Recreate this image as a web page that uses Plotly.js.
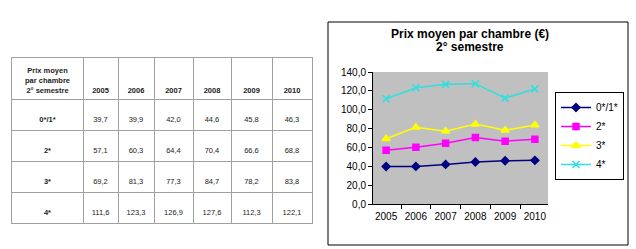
<!DOCTYPE html>
<html>
<head>
<meta charset="utf-8">
<script src="https://cdn.plot.ly/plotly-3.0.1.min.js"></script>
<style>
  html, body { margin: 0; padding: 0; background: #fff; }
  #chart { width: 636px; height: 249px; }
</style>
</head>
<body>
<div id="chart"></div>
<script>
// Average price per room, second half-year, by hotel category
const years = ["2005", "2006", "2007", "2008", "2009", "2010"];
const categories = ["0*/1*", "2*", "3*", "4*"];
const cat01 = [39.7, 39.9, 42.0, 44.6, 45.8, 46.3];
const cat2 = [57.1, 60.3, 64.4, 70.4, 66.6, 68.8];
const cat3 = [69.2, 81.3, 77.3, 84.7, 78.2, 83.8];
const cat4 = [111.6, 123.3, 126.9, 127.6, 112.3, 122.1];
const tableHeading = "Prix moyen<br>par chambre<br>2° semestre";
const chartTitle1 = "Prix moyen par chambre (€)";
const chartTitle2 = "2° semestre";

const series = [cat01, cat2, cat3, cat4];

// ---- styling / geometry --------------------------------------------------
const W = 636, H = 249;
const px = v => v / W;
const py = v => 1 - v / H;
const font = "Arial, 'Liberation Sans', sans-serif";

const styles = [
  { color: "#000080", symbol: "diamond", size: 6 },
  { color: "#ff00ff", symbol: "square", size: 6 },
  { color: "#ffff00", symbol: "triangle-up", size: 7 },
  { color: "#2ee0e0", symbol: "x-thin-open", size: 7 }
];

// grid of the table (column widths and row heights in table units = px)
const colWidths = [71, 35, 36, 39, 38, 41, 40];
const rowHeights = [41, 31, 31, 31, 31];
const edges = sizes => sizes.reduce((acc, s) => acc.concat(acc[acc.length - 1] + s), [0]);
const colEdges = edges(colWidths);
const rowEdges = edges(rowHeights);
const colCenters = colWidths.map((w, i) => colEdges[i] + w / 2);
const tableW = colEdges[colEdges.length - 1];
const tableH = rowEdges[rowEdges.length - 1];
const textLift = 9.5;      // text sits near the bottom of each cell
const lineStep = 9.75;     // line spacing of the 3-line heading

const fmt = v => v.toFixed(1).replace(".", ",");

// ---- table text --------------------------------------------------------------
const headerTrace = {
  type: "scatter", mode: "text", xaxis: "x2", yaxis: "y2",
  x: colCenters,
  y: colCenters.map((c, i) => rowEdges[1] - 8 - (i === 0 ? lineStep : 0)),
  text: [tableHeading].concat(years),
  textposition: "middle center",
  textfont: { family: font, size: 7.5, color: "#222", weight: "bold" },
  cliponaxis: false, showlegend: false, hoverinfo: "skip"
};

const labelTrace = {
  type: "scatter", mode: "text", xaxis: "x2", yaxis: "y2",
  x: categories.map(() => colCenters[0]),
  y: categories.map((c, r) => rowEdges[r + 2] - textLift),
  text: categories,
  textposition: "middle center",
  textfont: { family: font, size: 7.5, color: "#222", weight: "bold" },
  cliponaxis: false, showlegend: false, hoverinfo: "skip"
};

const valX = [], valY = [], valText = [];
series.forEach((s, r) => {
  s.forEach((v, c) => {
    valX.push(colCenters[c + 1]);
    valY.push(rowEdges[r + 2] - textLift);
    valText.push(fmt(v));
  });
});
const valueTrace = {
  type: "scatter", mode: "text", xaxis: "x2", yaxis: "y2",
  x: valX, y: valY, text: valText,
  textposition: "middle center",
  textfont: { family: font, size: 7.5, color: "#222" },
  cliponaxis: false, showlegend: false, hoverinfo: "skip"
};

// ---- line chart ----------------------------------------------------------
const lines = series.map((s, i) => ({
  type: "scatter",
  mode: "lines+markers",
  name: categories[i],
  x: years,
  y: s,
  line: { color: styles[i].color, width: 1.5 },
  marker: {
    color: styles[i].color,
    symbol: styles[i].symbol,
    size: styles[i].size,
    line: { color: styles[i].color, width: 1.5 }
  }
}));

const tableGrid = "#a0a0a0";

const layout = {
  width: W,
  height: H,
  margin: { l: 0, r: 0, t: 0, b: 0 },
  paper_bgcolor: "#ffffff",
  plot_bgcolor: "rgba(0,0,0,0)",
  separators: ",.",
  font: { family: font, size: 10, color: "#000" },
  xaxis: {
    domain: [px(373), px(548)],
    anchor: "y",
    type: "category",
    tickson: "boundaries",
    tickangle: 0,
    ticks: "outside",
    ticklen: 4,
    ticklabelstandoff: 3,
    tickcolor: "#000",
    showline: true,
    linecolor: "#000",
    linewidth: 1,
    showgrid: false,
    tickfont: { family: font, size: 10, color: "#000" },
    fixedrange: true
  },
  yaxis: {
    domain: [py(204), py(72)],
    anchor: "x",
    range: [0, 140],
    dtick: 20,
    tickformat: ".1f",
    ticks: "outside",
    ticklen: 4,
    tickcolor: "#000",
    showline: true,
    linecolor: "#000",
    linewidth: 1,
    showgrid: false,
    zeroline: false,
    tickfont: { family: font, size: 10, color: "#000" },
    fixedrange: true
  },
  // horizontal grid of the chart (no line along the top edge)
  yaxis3: {
    overlaying: "y",
    anchor: "x",
    range: [0, 140],
    tickvals: [20, 40, 60, 80, 100, 120],
    showticklabels: false,
    ticks: "",
    showgrid: true,
    gridcolor: "#000",
    gridwidth: 1,
    zeroline: false,
    showline: false,
    fixedrange: true
  },
  // table axes
  xaxis2: {
    domain: [px(12), px(12 + tableW)],
    anchor: "y2",
    range: [0, tableW],
    tickvals: colEdges,
    showticklabels: false,
    ticks: "",
    showgrid: true,
    gridcolor: tableGrid,
    gridwidth: 1,
    zeroline: false,
    showline: true,
    mirror: true,
    linecolor: tableGrid,
    linewidth: 1,
    fixedrange: true
  },
  yaxis2: {
    domain: [py(58 + tableH), py(58)],
    anchor: "x2",
    range: [tableH, 0],
    tickvals: rowEdges,
    showticklabels: false,
    ticks: "",
    showgrid: true,
    gridcolor: tableGrid,
    gridwidth: 1,
    zeroline: false,
    showline: true,
    mirror: true,
    linecolor: tableGrid,
    linewidth: 1,
    fixedrange: true
  },
  showlegend: true,
  legend: {
    x: px(555),
    y: py(92),
    xanchor: "left",
    yanchor: "top",
    bgcolor: "#ffffff",
    bordercolor: "#000",
    borderwidth: 1,
    font: { family: font, size: 10, color: "#000" },
    itemwidth: 30
  },
  shapes: [
    {
      // grey plotting area of the chart
      type: "rect", xref: "x domain", yref: "y domain",
      x0: 0, x1: 1, y0: 0, y1: 1,
      line: { width: 0 }, fillcolor: "#c0c0c0", layer: "below"
    },
    {
      // frame around the chart
      type: "rect", xref: "paper", yref: "paper",
      x0: px(328), x1: px(628), y0: py(245), y1: py(22),
      line: { color: "#000", width: 1 }, fillcolor: "rgba(0,0,0,0)", layer: "below"
    }
  ],
  annotations: [
    {
      text: "<b>" + chartTitle1 + "</b>", xref: "paper", yref: "paper",
      x: px(470), y: py(34), xanchor: "center", yanchor: "middle", showarrow: false,
      font: { family: font, size: 12, color: "#000" }
    },
    {
      text: "<b>" + chartTitle2 + "</b>", xref: "paper", yref: "paper",
      x: px(470), y: py(47), xanchor: "center", yanchor: "middle", showarrow: false,
      font: { family: font, size: 12, color: "#000" }
    }
  ]
};

Plotly.newPlot("chart", lines.concat([headerTrace, labelTrace, valueTrace]), layout,
  { staticPlot: true, displayModeBar: false });
</script>
</body>
</html>
